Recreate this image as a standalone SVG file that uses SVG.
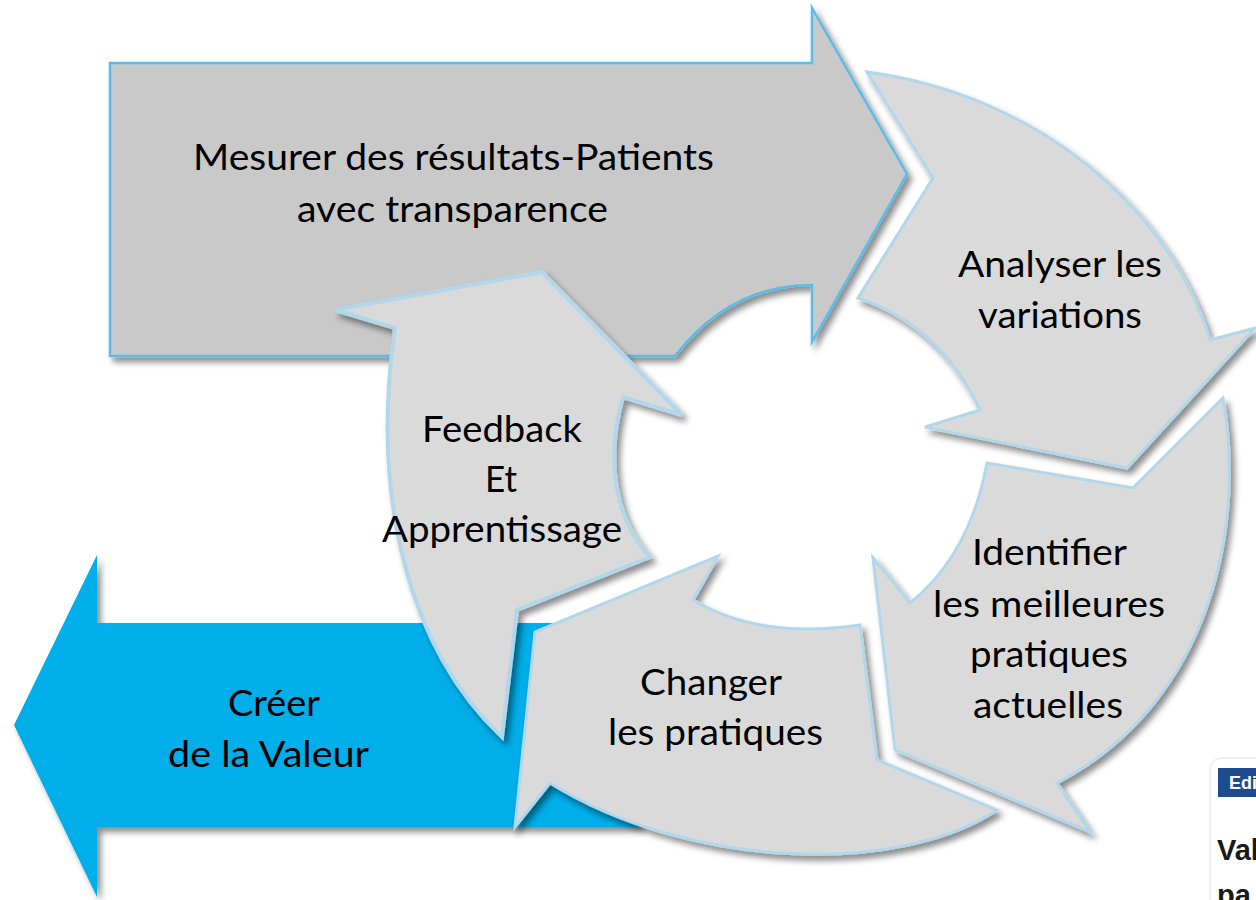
<svg xmlns="http://www.w3.org/2000/svg" width="1256" height="900" viewBox="0 0 1256 900">
  <defs>
    <filter id="sh" x="-10%" y="-10%" width="130%" height="130%">
      <feDropShadow dx="4" dy="5" stdDeviation="3" flood-color="#000" flood-opacity="0.45"/>
    </filter>
    <style>
      .lbl { font-family: Lato, "Open Sans", "Liberation Sans", sans-serif; font-size: 37px; fill: #000; text-anchor: middle; }
      .cyc { fill: #dadada; stroke: #b3d7ea; stroke-width: 3; stroke-linejoin: miter; filter: url(#sh); }
      .main { fill: #c9c9c9; stroke: #5bbce6; stroke-width: 2.5; filter: url(#sh); }
      .blue { fill: #00aeea; filter: url(#sh); }
      .card { font-family: "Liberation Sans", Arial, sans-serif; font-weight: bold; }
    </style>
  </defs>
  <rect width="1256" height="900" fill="#ffffff"/>

  <g id="creer">
    <path class="blue" d="M97,623 L640,623 L640,827 L97,827 L97,897 L14,725 L97,555 Z"/>
    <text class="lbl" x="274" y="716" textLength="92" lengthAdjust="spacingAndGlyphs">Créer</text>
    <text class="lbl" x="268.5" y="767" textLength="201" lengthAdjust="spacingAndGlyphs">de la Valeur</text>
  </g>

  <g id="mesurer">
    <path class="main" d="M110,63 L812,63 L812,8 L907,174 L812,342 L812,285 Q730,285 675,356 L110,356 Z"/>
    <text class="lbl" x="453.5" y="170" textLength="521" lengthAdjust="spacingAndGlyphs">Mesurer des résultats-Patients</text>
    <text class="lbl" x="452.5" y="222" textLength="311" lengthAdjust="spacingAndGlyphs">avec transparence</text>
  </g>

  <g id="analyser">
    <path class="cyc" d="M867,72 L933,178 L858,298 Q940,325 980,410 L925,427 L1127,468 L1255,328 L1210,340 C1170,210 1040,95 867,72 Z"/>
    <text class="lbl" x="1060" y="277" textLength="204" lengthAdjust="spacingAndGlyphs">Analyser les</text>
    <text class="lbl" x="1060" y="328" textLength="164" lengthAdjust="spacingAndGlyphs">variations</text>
  </g>

  <g id="identifier">
    <path class="cyc" d="M987,463 L1133,488 L1223,398 C1245,520 1215,700 1057,783 L1090,832 L895,750 L873,558 L910,603 Q970,555 987,463 Z"/>
    <text class="lbl" x="1049.5" y="565" textLength="155" lengthAdjust="spacingAndGlyphs">Identifier</text>
    <text class="lbl" x="1049" y="617" textLength="232" lengthAdjust="spacingAndGlyphs">les meilleures</text>
    <text class="lbl" x="1049" y="667" textLength="158" lengthAdjust="spacingAndGlyphs">pratiques</text>
    <text class="lbl" x="1048" y="718" textLength="150" lengthAdjust="spacingAndGlyphs">actuelles</text>
  </g>

  <g id="changer">
    <path class="cyc" d="M860,625 L877,760 L997,810 C900,875 690,870 550,783 L515,827 L535,632 L718,556 L693,600 Q760,640 860,625 Z"/>
    <text class="lbl" x="711" y="695" textLength="142" lengthAdjust="spacingAndGlyphs">Changer</text>
    <text class="lbl" x="715.5" y="745" textLength="215" lengthAdjust="spacingAndGlyphs">les pratiques</text>
  </g>

  <g id="feedback">
    <path class="cyc" style="stroke-width:4" d="M650,557 L517,610 L502,737 C410,650 370,500 395,328 L335,310 L542,272 L682,415 L623,397 C605,460 615,520 650,557 Z"/>
    <text class="lbl" x="502" y="442" textLength="160" lengthAdjust="spacingAndGlyphs">Feedback</text>
    <text class="lbl" x="501" y="492" textLength="32" lengthAdjust="spacingAndGlyphs">Et</text>
    <text class="lbl" x="502" y="542" textLength="240" lengthAdjust="spacingAndGlyphs">Apprentissage</text>
  </g>

  <g id="card">
    <rect x="1210" y="758" width="90" height="200" rx="12" fill="#ffffff" stroke="#ececec" stroke-width="1.5"/>
    <rect x="1218" y="768" width="60" height="29" fill="#1f4b8e"/>
    <text class="card" x="1229" y="789" font-size="18" fill="#ffffff">Edi</text>
    <text class="card" x="1217" y="860" font-size="29" fill="#1a1a1a">Val</text>
    <text class="card" x="1217" y="905" font-size="29" fill="#1a1a1a">pa</text>
  </g>
</svg>
